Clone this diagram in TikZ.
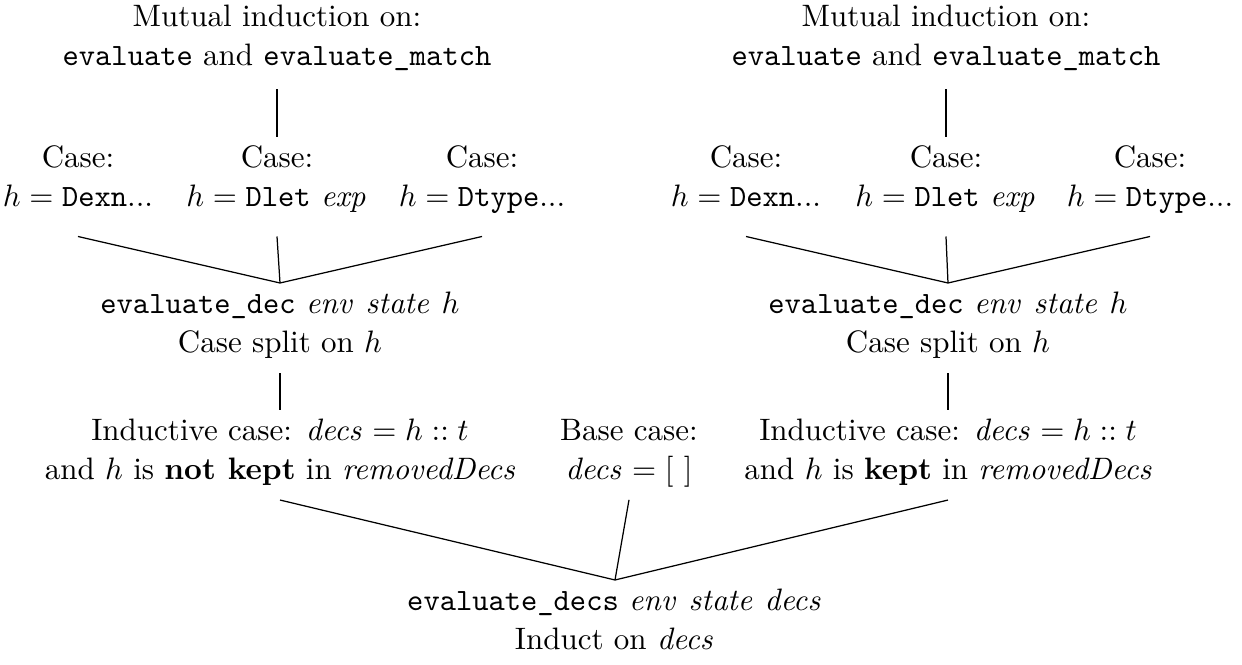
\documentclass[tikz,border=0pt]{standalone}
\usepackage{amsmath, amssymb}
\usepackage{tikz}

\begin{document}
\begin{tikzpicture}[x=0.011333cm, y=-0.011333cm,
        goal/.style={align=center, inner sep=0pt, outer sep=3pt,
            execute at begin node={\setlength{\baselineskip}{12.5pt}\strut},
            execute at end node=\strut}]
        \useasboundingbox (0,0) rectangle (1242,664);

        % left subtree
        \node[goal] (topL) at (277,41) {Mutual induction on:\\ \texttt{evaluate} and \texttt{evaluate\_match}};
        \node[goal] (caseLa) at (78,182) {Case:\\ $h = \texttt{Dexn}...$};
        \node[goal] (caseLb) at (277,182) {Case:\\ $h = \texttt{Dlet}~\mathit{exp}$};
        \node[goal] (caseLc) at (482,182) {Case:\\ $h = \texttt{Dtype}...$};
        \node[goal] (decL) at (280,328) {\texttt{evaluate\_dec} $\mathit{env}~\mathit{state}~h$\\ Case split on $h$};
        \node[goal] (indL) at (280,455) {Inductive case: $\mathit{decs} = h :: t$\\ and $h$ is \textbf{not kept} in \textit{removedDecs}};

        % right subtree
        \node[goal] (topR) at (946,41) {Mutual induction on:\\ \texttt{evaluate} and \texttt{evaluate\_match}};
        \node[goal] (caseRa) at (746,182) {Case:\\ $h = \texttt{Dexn}...$};
        \node[goal] (caseRb) at (946,182) {Case:\\ $h = \texttt{Dlet}~\mathit{exp}$};
        \node[goal] (caseRc) at (1150,182) {Case:\\ $h = \texttt{Dtype}...$};
        \node[goal] (decR) at (948,328) {\texttt{evaluate\_dec} $\mathit{env}~\mathit{state}~h$\\ Case split on $h$};
        \node[goal] (indR) at (948,455) {Inductive case: $\mathit{decs} = h :: t$\\ and $h$ is \textbf{kept} in \textit{removedDecs}};

        % base case and root
        \node[goal] (base) at (629,455) {Base case:\\ $\mathit{decs} = [\ ]$};
        \node[goal] (root) at (615,625) {\texttt{evaluate\_decs} $\mathit{env}~\mathit{state}~\mathit{decs}$\\ Induct on $\mathit{decs}$};

        \draw ([yshift=-1pt]topL.south) -- (caseLb.north);
        \draw ([yshift=-3pt]caseLa.south) -- (decL.north);
        \draw ([yshift=-3pt]caseLb.south) -- (decL.north);
        \draw ([yshift=-3pt]caseLc.south) -- (decL.north);
        \draw (decL.south) -- (indL.north);

        \draw ([yshift=-1pt]topR.south) -- (caseRb.north);
        \draw ([yshift=-3pt]caseRa.south) -- (decR.north);
        \draw ([yshift=-3pt]caseRb.south) -- (decR.north);
        \draw ([yshift=-3pt]caseRc.south) -- (decR.north);
        \draw (decR.south) -- (indR.north);

        \draw (indL.south) -- (root.north);
        \draw (base.south) -- (root.north);
        \draw (indR.south) -- (root.north);
    \end{tikzpicture}
\end{document}
